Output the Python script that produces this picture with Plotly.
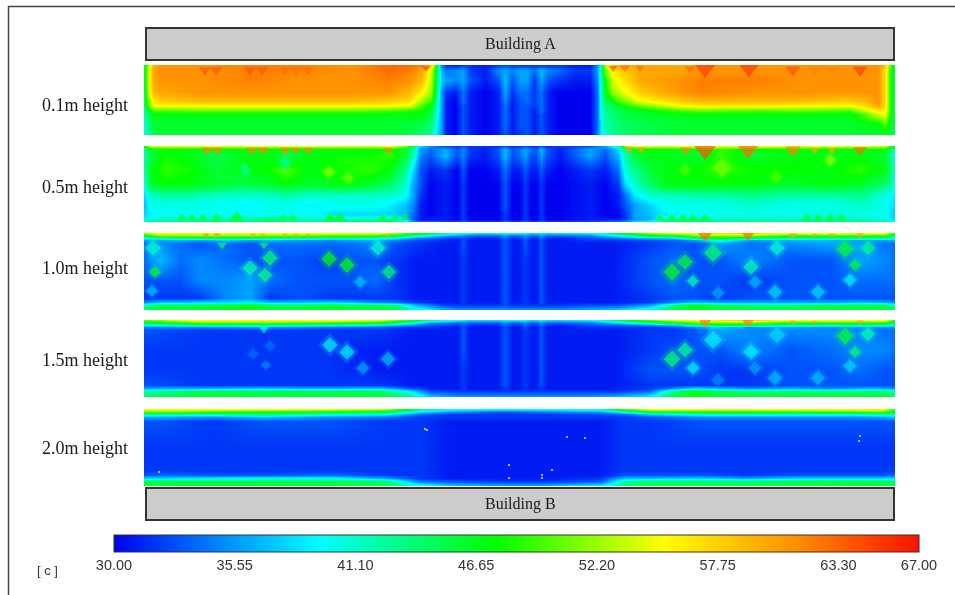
import numpy as np
import plotly.graph_objects as go

TICKS = [30.00, 35.55, 41.10, 46.65, 52.20, 57.75, 63.30, 67.00]
COLORS = [[0, "#0000f0"], [0.125, "#0080ff"], [0.256, "#00ffff"], [0.36, "#00ff80"], [0.476, "#00ff00"],
          [0.58, "#80ff00"], [0.684, "#ffff00"], [0.85, "#ff8c00"], [1, "#ff1000"]]
LABELS = ["0.1m height", "0.5m height", "1.0m height", "1.5m height", "2.0m height"]

# ---- 0.1 m
P1_Y = [65, 70, 80, 92, 101, 106, 110, 114, 124, 135]
P1_X = [144, 149, 153, 160, 200, 250, 300, 350, 390, 410, 422, 431, 437,
        441, 446, 455, 463, 470, 485, 498, 505, 512, 520, 527, 534, 541, 548, 558, 575, 590, 597,
        600, 604, 612, 620, 640, 680, 700, 760, 800, 850, 865, 878, 885, 889, 895]
P1_Z = [
    [45, 46, 46, 45, 45, 44, 43, 42, 41, 40],
    [54, 55, 55, 55, 52, 50, 47, 45, 44, 43],
    [59, 60, 60, 59, 56, 55, 50, 47, 46, 45],
    [61, 61, 61, 60, 58, 55, 50, 47, 46, 46],
    [61, 61, 61, 61, 59, 55, 51, 47, 46, 46],
    [62, 62, 62, 61, 59, 55, 51, 47, 46, 46],
    [62, 62, 61, 61, 59, 55, 51, 47, 46, 46],
    [61, 61, 61, 61, 59, 55, 51, 47, 46, 46],
    [63, 63, 62, 61, 58, 55, 50, 47, 46, 46],
    [63, 62, 61, 59, 57, 54, 49, 47, 46, 45],
    [62, 60, 59, 56, 52, 49, 48, 47, 45, 44],
    [58, 54, 53, 52, 49, 47, 46, 45, 44, 43],
    [46, 44, 44, 43, 42, 41, 41, 40, 39, 38],
    [35, 37, 38, 36, 36, 36, 36, 36, 36, 36],
    [32, 34, 36, 32, 31, 31, 31, 31, 31, 31],
    [31, 35, 35, 31, 30, 30, 30, 30, 30, 30],
    [32, 36, 36, 34, 34, 33, 33, 33, 33, 33],
    [32, 32, 33, 31, 31, 31, 31, 31, 31, 31],
    [31, 31, 31, 30, 30, 30, 30, 30, 30, 30],
    [32, 35, 33, 31, 31, 31, 31, 31, 31, 31],
    [33, 36, 37, 36, 35, 34, 34, 34, 34, 33],
    [32, 35, 33, 32, 31, 31, 31, 31, 31, 31],
    [32, 36, 36, 34, 33, 33, 33, 33, 33, 32],
    [32, 36, 36, 34, 34, 33, 33, 33, 33, 33],
    [32, 34, 32, 32, 32, 32, 31, 31, 31, 31],
    [32, 37, 36, 34, 34, 34, 34, 33, 33, 33],
    [32, 35, 33, 31, 31, 31, 31, 31, 31, 31],
    [32, 34, 32, 30, 30, 30, 30, 30, 30, 30],
    [31, 32, 31, 30, 30, 30, 30, 30, 30, 30],
    [31, 32, 31, 30, 30, 30, 30, 30, 30, 30],
    [35, 36, 35, 34, 34, 34, 34, 34, 34, 34],
    [40, 40, 40, 40, 39, 39, 39, 39, 38, 38],
    [52, 50, 47, 46, 44, 43, 43, 42, 42, 41],
    [58, 56, 54, 52, 47, 45, 44, 44, 43, 43],
    [60, 58, 56, 54, 50, 47, 45, 45, 44, 44],
    [60, 60, 60, 58, 55, 50, 47, 46, 45, 45],
    [60, 60, 61, 61, 58, 55, 50, 47, 46, 46],
    [61, 61, 62, 62, 59, 56, 51, 47, 46, 46],
    [61, 61, 62, 61, 59, 56, 50, 47, 46, 46],
    [61, 61, 61, 61, 59, 55, 51, 47, 46, 46],
    [61, 61, 61, 61, 58, 55, 50, 47, 46, 46],
    [61, 61, 61, 61, 59, 57, 54, 50, 47, 46],
    [61, 61, 61, 61, 61, 60, 57, 54, 47, 46],
    [58, 57, 57, 57, 57, 57, 56, 55, 50, 46],
    [52, 50, 50, 50, 50, 50, 50, 49, 47, 46],
    [45, 45, 45, 45, 45, 45, 45, 45, 45, 44],
]
P1_HOT_X = [205, 216, 250, 262, 285, 296, 308, 388, 426, 613, 625, 640, 690, 705, 749, 793, 815, 832, 860]
P1_HOT_Y = [70, 70, 70, 70, 70, 70, 70, 70, 68, 68, 68, 68, 69, 69, 69, 70, 70, 70, 70]
P1_HOT_V = [64, 64, 64, 64, 63, 63, 63, 63, 65, 64, 63, 63, 63, 65, 65, 64, 62, 62, 65]
P1_HOT_S = [11, 11, 11, 11, 10, 10, 10, 11, 7, 8, 8, 8, 9, 18, 17, 13, 10, 10, 13]

# ---- 0.5 m
P2_Y = [146, 149, 155, 170, 185, 195, 205, 215, 219, 222]
P2_X = [144, 150, 165, 190, 215, 245, 270, 285, 310, 340, 370, 390, 405, 413, 420, 430,
        445, 457, 463, 469, 485, 498, 505, 512, 519, 525, 531, 536, 541, 547, 560, 590, 605, 618, 625, 635, 650, 665, 700, 720, 750, 790, 830, 860, 885, 895]
P2_Z = [
    [46, 43, 42, 42, 40, 38, 37, 38, 39, 44],
    [54, 46, 45, 47, 46, 41, 40, 39, 40, 45],
    [55, 47, 48, 49, 47, 42, 40, 40, 41, 46],
    [55, 47, 47, 48, 47, 42, 40, 40, 41, 46],
    [55, 47, 45, 46, 46, 41, 40, 40, 42, 46],
    [55, 47, 47, 47, 45, 41, 39, 40, 41, 46],
    [55, 47, 47, 48, 46, 41, 40, 40, 44, 47],
    [55, 47, 45, 50, 47, 42, 40, 40, 41, 46],
    [55, 47, 47, 47, 46, 41, 39, 40, 41, 46],
    [55, 47, 48, 48, 47, 41, 40, 38, 41, 46],
    [55, 47, 48, 49, 46, 41, 40, 38, 42, 46],
    [55, 48, 49, 47, 44, 41, 39, 38, 42, 47],
    [52, 46, 46, 43, 41, 40, 37, 37, 38, 43],
    [46, 42, 42, 38, 36, 36, 35, 34, 33, 36],
    [38, 36, 35, 33, 33, 32, 31, 31, 31, 34],
    [35, 34, 33, 31, 30, 30, 30, 30, 31, 34],
    [33, 36, 37, 32, 31, 31, 31, 31, 31, 33],
    [32, 33, 33, 30, 30, 30, 30, 30, 30, 33],
    [33, 35, 35, 33, 32, 32, 32, 32, 32, 34],
    [32, 32, 32, 30, 30, 30, 30, 30, 30, 33],
    [32, 31, 31, 30, 30, 30, 30, 30, 30, 33],
    [32, 33, 33, 31, 30, 30, 30, 30, 30, 33],
    [33, 37, 37, 34, 33, 33, 33, 32, 32, 34],
    [32, 33, 33, 31, 30, 30, 30, 30, 30, 33],
    [32, 34, 34, 31, 30, 30, 30, 30, 30, 33],
    [33, 36, 36, 33, 32, 32, 32, 32, 32, 34],
    [32, 34, 33, 31, 30, 30, 30, 30, 30, 33],
    [32, 33, 33, 31, 30, 30, 30, 30, 30, 33],
    [33, 37, 36, 33, 32, 32, 32, 32, 32, 34],
    [32, 33, 33, 31, 30, 30, 30, 30, 30, 33],
    [32, 31, 31, 30, 30, 30, 30, 30, 30, 33],
    [33, 36, 36, 32, 31, 31, 31, 31, 31, 33],
    [36, 34, 33, 31, 30, 30, 30, 30, 31, 34],
    [42, 38, 37, 34, 32, 31, 31, 30, 31, 35],
    [52, 44, 42, 41, 38, 34, 33, 32, 32, 36],
    [55, 47, 46, 43, 41, 39, 36, 36, 36, 38],
    [55, 47, 47, 46, 44, 41, 38, 37, 37, 40],
    [55, 47, 47, 47, 47, 41, 40, 39, 42, 46],
    [56, 47, 46, 48, 47, 42, 40, 40, 42, 47],
    [55, 49, 49, 49, 47, 42, 40, 40, 41, 46],
    [56, 47, 46, 48, 47, 43, 41, 40, 41, 46],
    [55, 48, 47, 48, 46, 42, 40, 40, 41, 46],
    [55, 47, 47, 47, 47, 42, 40, 41, 42, 46],
    [55, 47, 47, 49, 46, 43, 41, 40, 41, 46],
    [54, 47, 46, 47, 44, 40, 40, 40, 40, 45],
    [45, 41, 40, 41, 40, 39, 38, 37, 38, 43],
]
P2_HOT_X = [207, 217, 252, 263, 285, 296, 308, 388, 629, 641, 686, 705, 748, 793, 815, 832, 860]
P2_HOT_Y = [150, 150, 150, 150, 150, 150, 150, 150, 149, 149, 150, 150, 150, 150, 150, 150, 150]
P2_HOT_V = [62, 62, 62, 62, 62, 62, 62, 62, 60, 60, 62, 64, 63, 62, 60, 60, 63]
P2_HOT_S = [10, 10, 10, 10, 10, 9, 9, 9, 8, 8, 10, 20, 18, 14, 8, 8, 12]
P2_UP_X = [182, 192, 203, 217, 237, 283, 293, 330, 340, 383, 395, 405, 660, 672, 683, 693, 705, 807, 818, 830, 842]
P2_UP_Y = [218] * len(P2_UP_X)
P2_UP_V = [47] * len(P2_UP_X)
P2_UP_S = [8, 8, 8, 9, 14, 8, 8, 12, 12, 8, 8, 8, 8, 8, 8, 8, 8, 8, 8, 8, 8]
P2_BLOB_X = [329, 348, 245, 285, 685, 722, 830, 776]
P2_BLOB_Y = [172, 178, 170, 163, 170, 168, 160, 177]
P2_BLOB_V = [52, 51, 43, 43, 50, 51, 52, 50]
P2_BLOB_S = [9, 9, 9, 10, 9, 14, 9, 9]

# ---- 1.0 m
P3_Y = [233, 236, 238, 240, 243, 260, 280, 298, 302, 305, 310]
P3_X = [144, 160, 180, 200, 225, 250, 270, 300, 330, 350, 375, 395, 415, 440, 457, 463, 469, 485, 498, 505, 512, 519, 525, 531, 536, 541, 547,
        560, 590, 615, 650, 675, 695, 720, 750, 790, 830, 860, 885, 895]
P3_Z = [
    [52, 46, 40, 36, 34, 34, 33, 32, 35, 42, 45],
    [56, 50, 41, 36, 35, 37, 33, 32, 37, 45, 46],
    [56, 50, 43, 37, 34, 34, 33, 32, 37, 45, 46],
    [56, 50, 44, 36, 33, 35, 35, 32, 38, 45, 46],
    [56, 50, 44, 38, 34, 34, 35, 35, 38, 46, 47],
    [56, 50, 44, 36, 33, 33, 36, 36, 39, 47, 47],
    [56, 49, 43, 37, 34, 33, 34, 32, 37, 45, 46],
    [56, 49, 43, 36, 34, 33, 33, 33, 37, 45, 46],
    [55, 48, 42, 35, 34, 32, 33, 32, 38, 46, 47],
    [55, 48, 42, 36, 34, 33, 33, 32, 37, 45, 46],
    [55, 47, 41, 37, 35, 33, 34, 32, 35, 45, 46],
    [53, 45, 39, 35, 33, 32, 32, 32, 34, 44, 46],
    [48, 41, 35, 33, 32, 31, 31, 31, 32, 37, 42],
    [44, 36, 33, 32, 31, 31, 31, 31, 31, 33, 38],
    [41, 34, 32, 31, 31, 31, 31, 31, 31, 32, 36],
    [40, 34, 33, 33, 33, 32, 32, 32, 32, 32, 36],
    [39, 33, 32, 31, 31, 31, 31, 31, 31, 32, 36],
    [38, 33, 31, 31, 31, 31, 31, 31, 31, 32, 36],
    [39, 33, 32, 31, 31, 31, 31, 31, 31, 32, 36],
    [39, 35, 34, 33, 33, 33, 33, 33, 33, 33, 36],
    [39, 33, 32, 31, 31, 31, 31, 31, 31, 32, 36],
    [39, 33, 32, 31, 31, 31, 31, 31, 31, 32, 36],
    [39, 35, 34, 33, 33, 32, 32, 32, 32, 32, 36],
    [38, 33, 32, 31, 31, 31, 31, 31, 31, 32, 36],
    [38, 33, 32, 31, 31, 31, 31, 31, 31, 32, 36],
    [39, 35, 34, 33, 33, 33, 33, 33, 33, 32, 36],
    [38, 33, 32, 31, 31, 31, 31, 31, 31, 32, 36],
    [38, 33, 31, 31, 31, 31, 31, 31, 31, 32, 36],
    [39, 34, 33, 32, 31, 31, 31, 31, 31, 33, 37],
    [45, 38, 34, 32, 31, 31, 31, 31, 31, 33, 38],
    [52, 45, 37, 33, 32, 33, 33, 32, 32, 36, 42],
    [54, 46, 38, 34, 33, 34, 34, 33, 35, 44, 46],
    [55, 50, 44, 36, 33, 33, 33, 33, 37, 47, 47],
    [58, 50, 47, 41, 36, 33, 33, 32, 36, 45, 46],
    [58, 50, 44, 36, 34, 35, 32, 33, 36, 44, 46],
    [55, 47, 43, 37, 35, 33, 33, 33, 36, 44, 46],
    [56, 47, 43, 37, 36, 33, 33, 33, 36, 45, 46],
    [56, 47, 43, 36, 36, 36, 34, 33, 37, 45, 46],
    [55, 47, 43, 36, 34, 35, 34, 33, 36, 45, 46],
    [48, 43, 40, 37, 34, 34, 34, 33, 35, 42, 44],
]
P3_HOT_X = [206, 217, 253, 263, 285, 296, 308, 388, 705, 748, 793, 815, 832, 860, 222, 264]
P3_HOT_Y = [235, 235, 235, 235, 235, 235, 235, 235, 234, 234, 235, 235, 235, 235, 245, 245]
P3_HOT_V = [61, 61, 60, 60, 60, 60, 60, 60, 63, 63, 60, 60, 60, 60, 44, 44]
P3_HOT_S = [6, 6, 5, 5, 5, 5, 5, 5, 16, 14, 7, 5, 5, 7, 9, 9]
P3_BLOB_X = [153, 155, 152, 270, 250, 265, 329, 347, 389, 378, 360, 672, 685, 693, 713, 751, 777, 845, 855, 868, 755, 775, 818, 850, 718]
P3_BLOB_Y = [248, 272, 291, 258, 268, 275, 259, 265, 272, 248, 282, 272, 262, 281, 253, 267, 248, 249, 265, 248, 282, 292, 292, 280, 293]
P3_BLOB_V = [41, 46, 37, 44, 42, 43, 47, 47, 44, 41, 37, 47, 46, 42, 44, 42, 41, 46, 46, 43, 37, 38, 38, 39, 36]
P3_BLOB_S = [12, 9, 9, 12, 12, 11, 12, 12, 11, 12, 9, 13, 12, 9, 14, 12, 12, 13, 9, 11, 10, 11, 11, 10, 10]

# ---- 1.5 m
P4_Y = [320, 323, 325, 327, 330, 350, 370, 385, 388, 391, 397]
P4_X = [144, 200, 260, 320, 380, 410, 430, 457, 463, 469, 485, 498, 505, 512, 519, 525, 531, 536, 541, 547, 560, 590, 615, 650, 675, 695, 720, 750, 790, 830, 860, 885, 895]
P4_Z = [
    [50, 45, 39, 35, 33, 32, 32, 33, 36, 42, 45],
    [56, 49, 42, 35, 32, 32, 32, 32, 36, 45, 46],
    [56, 49, 42, 36, 32, 32, 32, 32, 37, 45, 46],
    [56, 48, 41, 34, 32, 32, 32, 32, 36, 45, 46],
    [54, 46, 39, 33, 32, 31, 31, 32, 37, 45, 46],
    [48, 40, 35, 32, 31, 31, 31, 31, 33, 39, 44],
    [43, 35, 33, 32, 31, 31, 31, 31, 31, 33, 38],
    [40, 33, 32, 31, 31, 31, 31, 31, 31, 32, 36],
    [39, 34, 33, 33, 33, 33, 32, 32, 32, 32, 36],
    [38, 33, 32, 31, 31, 31, 31, 31, 31, 32, 36],
    [38, 33, 31, 31, 31, 31, 31, 31, 31, 32, 36],
    [38, 33, 32, 31, 31, 31, 31, 31, 31, 32, 36],
    [39, 35, 34, 33, 33, 33, 33, 33, 32, 32, 36],
    [39, 33, 32, 31, 31, 31, 31, 31, 31, 32, 36],
    [39, 33, 32, 31, 31, 31, 31, 31, 31, 32, 36],
    [39, 35, 34, 33, 32, 32, 32, 32, 32, 32, 36],
    [38, 33, 32, 31, 31, 31, 31, 31, 31, 32, 36],
    [38, 33, 32, 31, 31, 31, 31, 31, 31, 32, 36],
    [39, 35, 34, 33, 33, 33, 33, 33, 32, 32, 36],
    [38, 33, 32, 31, 31, 31, 31, 31, 31, 32, 36],
    [38, 33, 31, 31, 31, 31, 31, 31, 31, 32, 36],
    [39, 34, 33, 32, 31, 31, 31, 31, 31, 32, 36],
    [44, 37, 33, 32, 31, 31, 31, 31, 31, 32, 37],
    [50, 42, 35, 32, 32, 32, 33, 32, 32, 34, 40],
    [54, 46, 37, 33, 32, 33, 33, 32, 35, 44, 46],
    [55, 49, 41, 35, 33, 33, 33, 32, 38, 47, 47],
    [57, 50, 45, 38, 36, 33, 32, 32, 36, 45, 46],
    [58, 50, 43, 35, 35, 35, 32, 32, 35, 44, 46],
    [55, 47, 42, 36, 35, 33, 33, 33, 36, 44, 46],
    [56, 47, 42, 35, 35, 34, 33, 33, 35, 44, 46],
    [56, 47, 42, 36, 35, 35, 34, 33, 36, 44, 46],
    [55, 47, 42, 35, 34, 35, 33, 33, 36, 44, 46],
    [48, 43, 40, 36, 34, 34, 33, 33, 35, 42, 44],
]
P4_HOT_X = [705, 748, 793, 815, 860, 264]
P4_HOT_Y = [321, 321, 322, 322, 322, 329]
P4_HOT_V = [62, 62, 60, 60, 60, 40]
P4_HOT_S = [14, 13, 6, 5, 6, 9]
P4_BLOB_X = [330, 347, 388, 363, 270, 266, 253, 672, 685, 693, 713, 751, 777, 845, 855, 868, 755, 775, 818, 850, 718]
P4_BLOB_Y = [345, 352, 359, 368, 346, 365, 354, 359, 350, 368, 340, 352, 335, 336, 352, 334, 368, 378, 378, 366, 380]
P4_BLOB_V = [39, 39, 37, 36, 34, 35, 34, 44, 43, 39, 39, 39, 38, 46, 44, 42, 36, 37, 37, 38, 35]
P4_BLOB_S = [12, 12, 11, 10, 8, 7, 8, 13, 12, 10, 14, 12, 13, 13, 9, 11, 10, 11, 11, 10, 10]

# ---- 2.0 m
P5_Y = [409, 412, 414, 417, 421, 445, 470, 475, 478, 481, 486]
P5_X = [144, 165, 210, 265, 330, 385, 420, 450, 500, 545, 600, 625, 650, 700, 745, 800, 850, 880, 895]
P5_Z = [
    [55, 49, 43, 36, 33, 32, 32, 33, 38, 45, 46],
    [56, 50, 42, 36, 33, 32, 32, 34, 38, 45, 47],
    [56, 48, 42, 35, 32, 32, 32, 33, 39, 45, 47],
    [55, 47, 44, 37, 33, 32, 32, 33, 40, 45, 47],
    [55, 46, 41, 35, 33, 32, 32, 34, 40, 45, 47],
    [53, 45, 40, 34, 32, 32, 32, 32, 36, 44, 46],
    [44, 38, 34, 32, 32, 32, 32, 32, 32, 34, 42],
    [41, 35, 32, 32, 31, 31, 31, 31, 31, 33, 38],
    [40, 33, 32, 32, 31, 31, 31, 31, 31, 32, 37],
    [40, 34, 32, 32, 31, 31, 31, 31, 31, 32, 37],
    [42, 35, 33, 32, 31, 31, 31, 31, 32, 33, 40],
    [50, 40, 34, 32, 32, 32, 32, 33, 37, 42, 45],
    [55, 46, 38, 33, 32, 32, 32, 33, 37, 44, 46],
    [55, 47, 41, 35, 33, 32, 32, 33, 38, 44, 46],
    [55, 47, 42, 35, 33, 32, 32, 32, 36, 44, 46],
    [56, 47, 41, 35, 33, 32, 32, 33, 38, 45, 46],
    [56, 48, 41, 35, 33, 32, 32, 33, 38, 45, 47],
    [57, 49, 42, 36, 33, 32, 32, 33, 38, 45, 47],
    [49, 46, 42, 37, 33, 32, 32, 34, 38, 44, 46],
]
P5_SPECK_X = [159, 427, 425, 567, 585, 509, 552, 542, 509, 542, 860, 859]
P5_SPECK_Y = [472, 430, 429, 437, 438, 465, 470, 475, 478, 478, 436, 441]

PANEL_BOXES = [(144, 895, 65, 135), (144, 895, 146, 222), (144, 895, 233, 310), (144, 895, 320, 397), (144, 895, 409, 486)]
LABEL_Y = [105, 187, 268, 360, 448]
W, H = 955, 595


def px(v):
    return v / W


def py(v):
    return 1 - v / H


fig = go.Figure()
panels = [(P1_X, P1_Y, P1_Z), (P2_X, P2_Y, P2_Z), (P3_X, P3_Y, P3_Z), (P4_X, P4_Y, P4_Z), (P5_X, P5_Y, P5_Z)]
for i, (xs, ys, zcols) in enumerate(panels):
    n = "" if i == 0 else str(i + 1)
    fig.add_trace(go.Heatmap(x=xs, y=ys, z=np.array(zcols, dtype=float).T.tolist(), zsmooth="best",
                             coloraxis="coloraxis", hoverinfo="skip", xaxis="x" + n, yaxis="y" + n))
    l, r, t, b = PANEL_BOXES[i]
    common = dict(visible=False, fixedrange=True, showgrid=False, zeroline=False)
    fig.update_layout({
        "xaxis" + n: dict(domain=[px(l), px(r)], range=[l, r], anchor="y" + n, **common),
        "yaxis" + n: dict(domain=[py(b), py(t)], range=[b, t], anchor="x" + n, **common),
    })


def markers(i, xs, ys, vals, sizes, symbol, halo=False):
    n = "" if i == 0 else str(i + 1)
    if halo:
        fig.add_trace(go.Scatter(x=xs, y=ys, mode="markers", hoverinfo="skip", showlegend=False,
                                 xaxis="x" + n, yaxis="y" + n, opacity=0.3,
                                 marker=dict(symbol=symbol, size=[s * 1.5 for s in sizes], color=vals,
                                             coloraxis="coloraxis", line_width=0)))
    fig.add_trace(go.Scatter(x=xs, y=ys, mode="markers", hoverinfo="skip", showlegend=False,
                             xaxis="x" + n, yaxis="y" + n,
                             marker=dict(symbol=symbol, size=sizes, color=vals,
                                         coloraxis="coloraxis", line_width=0)))


markers(0, P1_HOT_X, P1_HOT_Y, P1_HOT_V, P1_HOT_S, "triangle-down")
markers(1, P2_BLOB_X, P2_BLOB_Y, P2_BLOB_V, P2_BLOB_S, "diamond", halo=True)
markers(1, P2_HOT_X, P2_HOT_Y, P2_HOT_V, P2_HOT_S, "triangle-down")
markers(1, P2_UP_X, P2_UP_Y, P2_UP_V, P2_UP_S, "triangle-up")
markers(2, P3_BLOB_X, P3_BLOB_Y, P3_BLOB_V, P3_BLOB_S, "diamond", halo=True)
markers(2, P3_HOT_X, P3_HOT_Y, P3_HOT_V, P3_HOT_S, "triangle-down")
markers(3, P4_BLOB_X, P4_BLOB_Y, P4_BLOB_V, P4_BLOB_S, "diamond", halo=True)
markers(3, P4_HOT_X, P4_HOT_Y, P4_HOT_V, P4_HOT_S, "triangle-down")
fig.add_trace(go.Scatter(x=P5_SPECK_X, y=P5_SPECK_Y, mode="markers", hoverinfo="skip", showlegend=False,
                         xaxis="x5", yaxis="y5", marker=dict(color="#dfe8ff", size=2, line_width=0)))

shapes = [
    dict(type="line", xref="paper", yref="paper", x0=px(8), x1=1, y0=py(6.5), y1=py(6.5), line=dict(color="#444", width=1.5)),
    dict(type="line", xref="paper", yref="paper", x0=px(8.5), x1=px(8.5), y0=py(6), y1=0, line=dict(color="#444", width=1.5)),
    dict(type="rect", xref="paper", yref="paper", x0=px(146), x1=px(894), y0=py(60), y1=py(28),
         fillcolor="#cdcbcb", line=dict(color="#333", width=2)),
    dict(type="rect", xref="paper", yref="paper", x0=px(146), x1=px(894), y0=py(520), y1=py(488),
         fillcolor="#cdcbcb", line=dict(color="#333", width=2)),
]
ann = []
serif = dict(family="Liberation Serif", size=18, color="#1a1a1a")
for lab, y in zip(LABELS, LABEL_Y):
    ann.append(dict(text=lab, x=px(130), y=py(y), xref="paper", yref="paper", xanchor="right", yanchor="middle",
                    showarrow=False, font=serif))
for lab, y in (("Building A", 44), ("Building B", 504)):
    ann.append(dict(text=lab, x=px(520), y=py(y), xref="paper", yref="paper", xanchor="center", yanchor="middle",
                    showarrow=False, font=dict(family="Liberation Serif", size=16, color="#1a1a1a")))
ann.append(dict(text="[ c ]", x=px(47), y=py(570), xref="paper", yref="paper", xanchor="center", yanchor="middle",
                showarrow=False, font=dict(family="Liberation Sans", size=13, color="#333")))

fig.update_layout(
    width=W, height=H, margin=dict(l=0, r=0, t=0, b=0, autoexpand=False),
    paper_bgcolor="white", plot_bgcolor="white", showlegend=False, shapes=shapes, annotations=ann,
    coloraxis=dict(
        cmin=30, cmax=67, colorscale=COLORS,
        colorbar=dict(
            orientation="h", x=px(114), xanchor="left", y=py(535), yanchor="top", len=805 / W, lenmode="fraction",
            thickness=17, thicknessmode="pixels", xpad=0, ypad=0, tickmode="array", tickvals=TICKS,
            ticktext=["%.2f" % t for t in TICKS], ticks="", ticklabelposition="outside bottom",
            tickfont=dict(family="Liberation Sans", size=14.5, color="#333"),
            outlinecolor="#333", outlinewidth=1, bordercolor="rgba(0,0,0,0)", borderwidth=0,
        ),
    ),
)
fig.write_html("out.html", post_script="document.body.style.margin='0';",
               config=dict(displayModeBar=False))
